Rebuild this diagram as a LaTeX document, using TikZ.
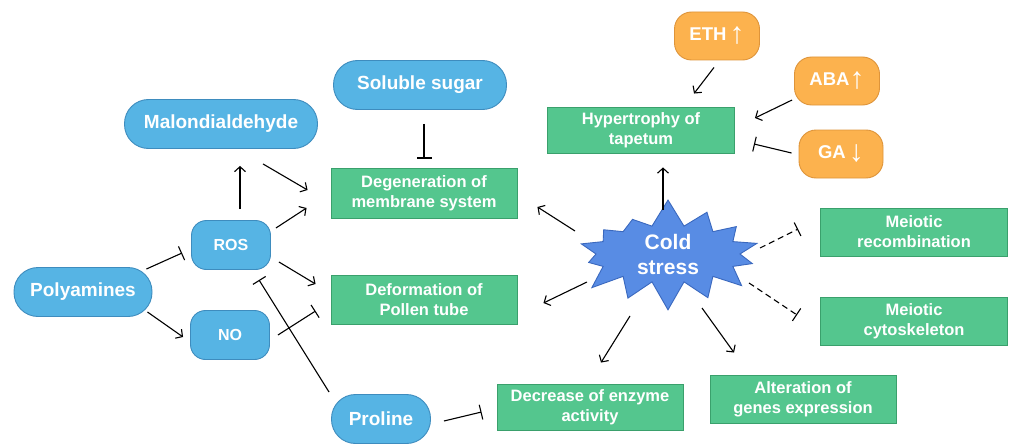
\documentclass[tikz,border=0pt]{standalone}
\usepackage{fontspec}
\setmainfont{Liberation Sans}
\usetikzlibrary{arrows.meta,shapes.symbols}

\definecolor{bluefill}{RGB}{86,180,228}
\definecolor{blueline}{RGB}{62,140,190}
\definecolor{greenfill}{RGB}{84,198,142}
\definecolor{greenline}{RGB}{58,160,108}
\definecolor{orangefill}{RGB}{252,178,78}
\definecolor{orangeline}{RGB}{222,148,58}
\definecolor{starfill}{RGB}{88,140,228}
\definecolor{starline}{RGB}{58,104,190}

\newcommand{\levelmark}[1]{\raisebox{-3pt}{\fontsize{30}{30}\selectfont\mdseries #1}}

\begin{document}
\begin{tikzpicture}[x=1pt, y=1pt,
  txt/.style={text=white, align=center, inner sep=0pt, line width=0.9pt},
  pill/.style={txt, draw=blueline, fill=bluefill, minimum height=49pt,
               rounded corners=24pt, font=\bfseries\fontsize{19}{22}\selectfont},
  small/.style={txt, draw=blueline, fill=bluefill, minimum width=79pt, minimum height=49pt,
                rounded corners=15pt, font=\bfseries\fontsize{16}{19}\selectfont},
  effect/.style={txt, draw=greenline, fill=greenfill, minimum width=186pt, minimum height=48pt,
                 font=\bfseries\fontsize{16.5}{20}\selectfont},
  hormone/.style={txt, draw=orangeline, fill=orangefill, minimum width=85pt, minimum height=48pt,
                  rounded corners=17pt, font=\bfseries\fontsize{18.5}{22}\selectfont},
  arr/.style={-{Straight Barb[length=5pt,width=11pt]}, line width=1.1pt},
  inh/.style={-{Bar[width=15pt]}, line width=1.1pt},
  weak/.style={dash pattern=on 6pt off 4pt}]
  \useasboundingbox (0,0) rectangle (1009,-444);

  % regulators
  \node[pill, minimum width=193pt] (mda) at (221,-124) {Malondialdehyde};
  \node[pill, minimum width=173pt] (sugar) at (420,-85) {Soluble sugar};
  \node[pill, minimum width=138pt] (poly) at (83,-292) {Polyamines};
  \node[pill, minimum width=99pt] (proline) at (381,-419) {Proline};
  \node[small] (ros) at (231,-245) {ROS};
  \node[small] (no) at (230,-335) {NO};

  % effects
  \node[effect, minimum height=50pt] (degen) at (424,-193) {Degeneration of\\membrane system};
  \node[effect, minimum height=49pt] (deform) at (424,-300) {Deformation of\\Pollen tube};
  \node[effect, minimum height=46pt] (decrease) at (590,-407) {Decrease of enzyme\\activity};
  \node[effect] (alter) at (803,-399) {Alteration of\\genes expression};
  \node[effect, minimum width=187pt] (mrec) at (914,-232) {Meiotic\\recombination};
  \node[effect, minimum width=187pt] (mcyto) at (914,-321) {Meiotic\\cytoskeleton};
  \node[effect, minimum width=187pt, minimum height=46pt] (hyper) at (641,-130) {Hypertrophy of\\tapetum};

  % hormones
  \node[hormone] (eth) at (717,-36) {ETH\,\levelmark{↑}};
  \node[hormone] (aba) at (837,-81) {ABA\levelmark{↑}};
  \node[hormone, minimum width=84pt] (ga) at (841,-154) {GA\,\levelmark{↓}};

  % stress
  \node[starburst, starburst points=14, starburst point height=28pt, random starburst=7,
        draw=starline, fill=starfill, line width=0.9pt, text=white, align=center, inner sep=0pt,
        minimum width=200pt, minimum height=62pt,
        font=\bfseries\fontsize{21}{25}\selectfont] (cold) at (668,-254) {Cold\\stress};

  % left side
  \draw[arr] ([shift={(9,11)}]ros.north) -- ([shift={(19,-17)}]mda.south);
  \draw[arr] ([shift={(42,-15)}]mda.south) -- ([shift={(-23,3)}]degen.west);
  \draw[arr] ([shift={(5,17)}]ros.east) -- ([shift={(-24,-15)}]degen.west);
  \draw[arr] ([shift={(8,-17)}]ros.east) -- ([shift={(-15,16)}]deform.west);
  \draw[inh] ([shift={(8,0)}]no.east) -- ([shift={(-15,-11)}]deform.west);
  \draw[inh] ([shift={(-6,23)}]poly.east) -- ([shift={(-9,-8)}]ros.west);
  \draw[arr] ([shift={(-5,-20)}]poly.east) -- ([shift={(-7,-2)}]no.west);
  \draw[inh] ([shift={(-2,2)}]proline.north west) -- ([shift={(28,-10)}]ros.south);
  \draw[inh] ([shift={(4,-14)}]sugar.south) -- ([shift={(0,9)}]degen.north);
  \draw[inh] ([shift={(13,-2)}]proline.east) -- ([shift={(-15,-5)}]decrease.west);

  % cold stress
  \draw[arr] ([shift={(-93,23)}]cold.center) -- ([shift={(20,-14)}]degen.east);
  \draw[arr] ([shift={(-81,-28)}]cold.center) -- ([shift={(26,-3)}]deform.east);
  \draw[arr] ([shift={(-5,44)}]cold.center) -- ([shift={(22,-14)}]hyper.south);
  \draw[arr] ([shift={(-38,-62)}]cold.center) -- ([shift={(11,21)}]decrease.north);
  \draw[arr] ([shift={(34,-54)}]cold.center) -- ([shift={(-69,22)}]alter.north);
  \draw[inh, weak] ([shift={(92,6)}]cold.center) -- ([shift={(-22,3)}]mrec.west);
  \draw[inh, weak] ([shift={(81,-29)}]cold.center) -- ([shift={(-23,6)}]mcyto.west);

  % hormones
  \draw[arr] ([shift={(-3,-7)}]eth.south) -- ([shift={(53,13)}]hyper.north);
  \draw[arr] ([shift={(-2,-19)}]aba.west) -- ([shift={(20,12)}]hyper.east);
  \draw[inh] ([shift={(-7,1)}]ga.west) -- ([shift={(19,-14)}]hyper.east);
\end{tikzpicture}
\end{document}
